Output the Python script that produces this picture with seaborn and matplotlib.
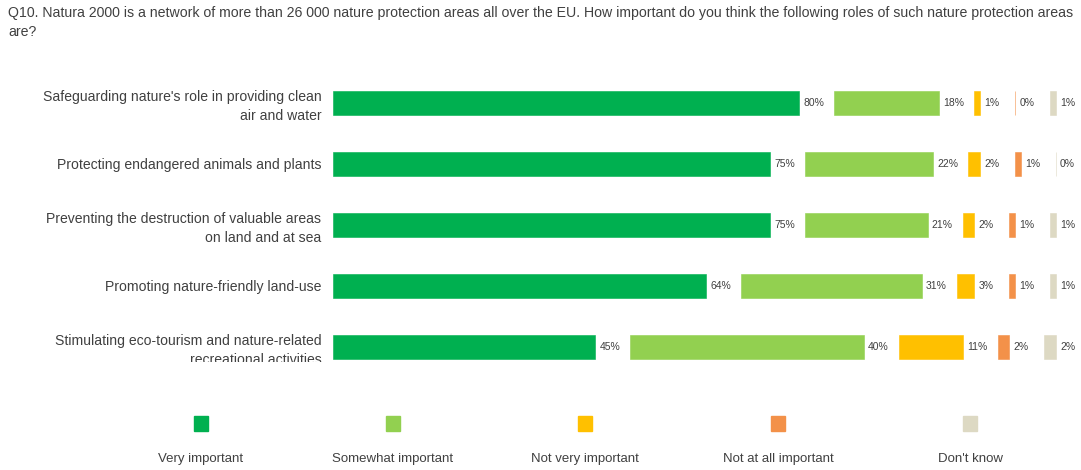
import numpy as np
import matplotlib
matplotlib.use("Agg")
import matplotlib.pyplot as plt
from matplotlib.transforms import Bbox, TransformedBbox
from matplotlib.patches import Rectangle
import seaborn as sns

title = ("Q10. Natura 2000 is a network of more than 26 000 nature protection areas all over the EU. "
         "How important do you think the following roles of such nature protection areas\nare?")

categories = [
    "Safeguarding nature's role in providing clean\nair and water",
    "Protecting endangered animals and plants",
    "Preventing the destruction of valuable areas\non land and at sea",
    "Promoting nature-friendly land-use",
    "Stimulating eco-tourism and nature-related\nrecreational activities",
]
answers = ["Very important", "Somewhat important", "Not very important",
           "Not at all important", "Don't know"]

very_important = [80, 75, 75, 64, 45]
somewhat_important = [18, 22, 21, 31, 40]
not_very_important = [1, 2, 2, 3, 11]
not_at_all_important = [0, 1, 1, 1, 2]
dont_know = [1, 0, 1, 1, 2]

colors = ["#00B050", "#92D050", "#FFC000", "#F39149", "#DDD9C3"]
text_color = "#404040"

sns.set_theme(style="white")
plt.rcParams["font.family"] = ["Liberation Sans Narrow", "Liberation Sans", "DejaVu Sans"]

W, H = 1081, 470
fig = plt.figure(figsize=(W / 100, H / 100), dpi=100)

# axes: x=0 at pixel 333, rows centred from y=103 to y=347
ax_left, ax_top, ax_bottom = 333, 72.5, 377.5
ax = fig.add_axes([ax_left / W, 1 - ax_bottom / H, (W - ax_left) / W, (ax_bottom - ax_top) / H])

gap = 6.0          # blank space (in % units) left for the value label after each segment
bar_h = 0.38
series = [very_important, somewhat_important, not_very_important,
          not_at_all_important, dont_know]

y = np.arange(len(categories))
offset = np.zeros(len(categories))
for k, (vals, col) in enumerate(zip(series, colors)):
    vals = np.array(vals, dtype=float)
    ax.barh(y, vals, left=offset, height=bar_h, color=col,
            edgecolor=col, linewidth=0.4)
    for yi, (v, left) in enumerate(zip(vals, offset)):
        ax.text(left + v + 0.7, yi, f"{int(v)}%", va="center", ha="left",
                fontsize=7.5, color=text_color)
    offset = offset + vals + gap

ax.set_xlim(0, (W - ax_left) / 5.83)
ax.set_ylim(len(categories) - 0.5, -0.5)
ax.set_yticks(y)
ax.set_yticklabels(categories, fontsize=10.1, color=text_color, linespacing=1.4)
ax.tick_params(axis="y", length=0, pad=8.4)
ax.set_xticks([])
for s in ax.spines.values():
    s.set_visible(False)

# category labels are cut at the bottom edge of the chart area
clip = TransformedBbox(Bbox([[0, 1 - 362 / H], [1, 1]]), fig.transFigure)
for lbl in ax.get_yticklabels():
    lbl.set_clip_on(True)
    lbl.set_clip_box(clip)

fig.text(8 / W, 1 - 6 / H, title, ha="left", va="top", fontsize=10.2,
         color=text_color, linespacing=1.5)

# legend row: coloured squares above their labels
legend_x = [201, 393, 585, 778, 970]
for xc, col, name in zip(legend_x, colors, answers):
    fig.patches.append(Rectangle(((xc - 7) / W, 1 - 431 / H), 14 / W, 15 / H,
                                 transform=fig.transFigure, color=col, figure=fig))
    fig.text(xc / W, 1 - 459 / H, name, ha="center", va="center",
             fontsize=9.5, color=text_color)

fig.savefig("out.png", dpi=100, facecolor="white")
